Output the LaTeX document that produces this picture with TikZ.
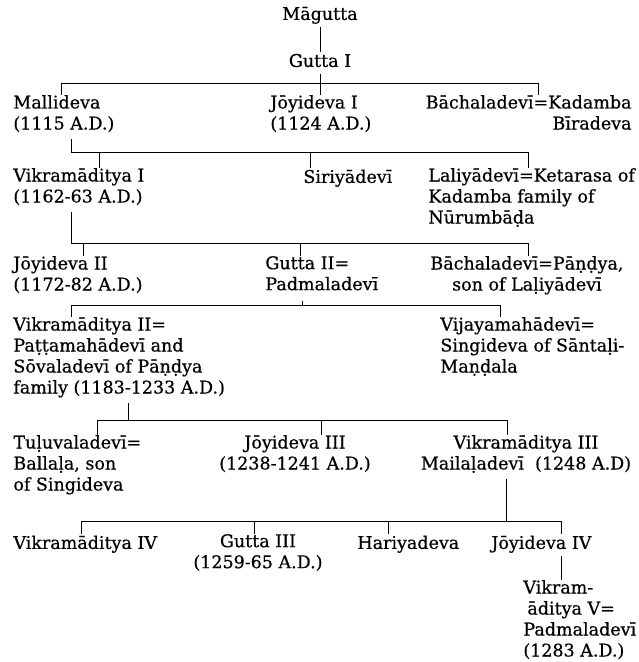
\documentclass[tikz,border=0pt]{standalone}
\usepackage{fontspec}
\setmainfont{DejaVu Serif}[FakeBold=0.6]

\begin{document}
\begin{tikzpicture}[x=1pt,y=-1pt,
    person/.style={font=\fontsize{17.5}{21}\selectfont,inner sep=0pt,align=left,anchor=north west,execute at begin node=\strut},
    every path/.style={line width=0.8pt}]
  \useasboundingbox[fill=white] (0,0) rectangle (639,662);

  \node[person,anchor=north] (magutta) at (320,4.8) {Māgutta};
  \node[person,anchor=north] (gutta1) at (320,51.8) {Gutta I};

  \node[person] (malli) at (13,94.8) {Mallideva\\(1115 A.D.)};
  \node[person] (joy1) at (270,94.8) {Jōyideva I\\(1124 A.D.)};
  \node[person,anchor=north east,align=right] (bach1) at (632,94.8) {Bāchaladevī=Kadamba\\Bīradeva};

  \node[person] (vik1) at (13,167.8) {Vikramāditya I\\(1162-63 A.D.)};
  \node[person] (siri) at (303,167.8) {Siriyādevī};
  \node[person] (lali) at (428,167.8) {Laliyādevī=Ketarasa of\\Kadamba family of\\Nūrumbāḍa};

  \node[person] (joy2) at (13,255.8) {Jōyideva II\\(1172-82 A.D.)};
  \node[person] (gutta2) at (265,255.8) {Gutta II=\\Padmaladevī};
  \node[person,align=center] (bach2) at (430,255.8) {Bāchaladevī=Pāṇḍya,\\son of Laḷiyādevī};

  \node[person] (vik2) at (13,316.8) {Vikramāditya II=\\Paṭṭamahādevī and\\Sōvaladevī of Pāṇḍya\\family (1183-1233 A.D.)};
  \node[person] (vijaya) at (440,316.8) {Vijayamahādevī=\\Singideva of Sāntaḷi-\\Maṇḍala};

  \node[person] (tulu) at (13,434.8) {Tuḷuvaladevī=\\Ballaḷa, son\\of Singideva};
  \node[person,anchor=north,align=center] (joy3) at (295,434.8) {Jōyideva III\\(1238-1241 A.D.)};
  \node[person,anchor=north,align=center] (vik3) at (526,434.8) {Vikramāditya III\\Mailaḷadevī\ \ (1248 A.D)};

  \node[person] (vik4) at (13,533.8) {Vikramāditya IV};
  \node[person,anchor=north,align=center] (gutta3) at (258,533.8) {Gutta III\\(1259-65 A.D.)};
  \node[person] (hari) at (357,533.8) {Hariyadeva};
  \node[person] (joy4) at (491,533.8) {Jōyideva IV};

  \node[person] (vik5) at (523,579.8) {Vikram-\\\hspace*{4pt}āditya V=\\Padmaladevī\\(1283 A.D.)};

  \coordinate (b1l) at (61,83);
  \coordinate (b1r) at (538,83);
  \coordinate (b2l) at (71,152);
  \coordinate (b2r) at (528,152);
  \coordinate (t2a) at (99,152);
  \coordinate (t2b) at (310,152);
  \coordinate (b3l) at (71,243);
  \coordinate (b3r) at (528,243);
  \coordinate (t3a) at (83,243);
  \coordinate (t3b) at (300,243);
  \coordinate (b4l) at (71,305);
  \coordinate (b4r) at (500,305);
  \coordinate (t4) at (302,305);
  \coordinate (b5l) at (97,420);
  \coordinate (b5r) at (507,420);
  \coordinate (t5a) at (128,420);
  \coordinate (t5b) at (321,420);
  \coordinate (b6l) at (81,521);
  \coordinate (b6r) at (561,521);
  \coordinate (t6a) at (254,521);
  \coordinate (t6b) at (388,521);
  \coordinate (t6c) at (506,521);

  \draw (magutta.south) -- (gutta1.north);
  \draw (gutta1.south) -- (gutta1.south |- joy1.north);
  \draw (b1l |- malli.north) -- (b1l) -- (b1r) -- (b1r |- bach1.north);

  \draw ([yshift=-3pt]b2l |- malli.south) -- (b2l) -- (b2r) -- (b2r |- lali.north);
  \draw (t2a) -- (t2a |- vik1.north);
  \draw (t2b) -- (t2b |- siri.north);

  \draw ([yshift=-3pt]b3l |- vik1.south) -- (b3l) -- (b3r) -- (b3r |- bach2.north);
  \draw (t3a) -- (t3a |- joy2.north);
  \draw (t3b) -- (t3b |- gutta2.north);

  \draw ([yshift=-4pt]t4 |- gutta2.south) -- (t4);
  \draw (b4l |- vik2.north) -- (b4l) -- (b4r) -- (b4r |- vijaya.north);

  \draw ([yshift=-3pt]t5a |- vik2.south) -- (t5a);
  \draw (b5l |- tulu.north) -- (b5l) -- (b5r) -- (b5r |- vik3.north);
  \draw (t5b) -- (t5b |- joy3.north);

  \draw ([yshift=-3pt]t6c |- vik3.south) -- (t6c);
  \draw (b6l |- vik4.north) -- (b6l) -- (b6r) -- (b6r |- joy4.north);
  \draw (t6a) -- (t6a |- gutta3.north);
  \draw (t6b) -- (t6b |- hari.north);
  \draw (b6r |- joy4.south) -- (b6r |- vik5.north);
\end{tikzpicture}
\end{document}
